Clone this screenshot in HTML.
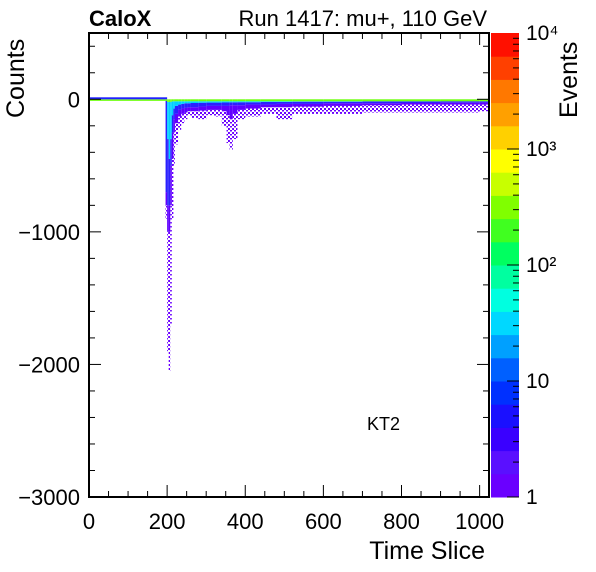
<!DOCTYPE html>
<html><head><meta charset="utf-8"><style>
html,body{margin:0;padding:0;background:#fff;}
svg{display:block;font-family:"Liberation Sans",sans-serif;}
</style></head><body>
<svg id="c" width="596" height="572" viewBox="0 0 596 572">
<defs>
<pattern id="sparse" width="4" height="4" patternUnits="userSpaceOnUse">
<rect x="0" y="0" width="2" height="2" fill="#6a00ff"/><rect x="2" y="2" width="2" height="1.5" fill="#6a00ff"/>
</pattern>
</defs>
<rect x="0" y="0" width="596" height="572" fill="#fff"/>
<g id="marks"></g>
<g id="axes"></g>
<g id="pal"></g>
<text x="89" y="26" font-size="22" font-weight="bold">CaloX</text>
<text x="487" y="26" font-size="22" text-anchor="end">Run 1417: mu+, 110 GeV</text>
<text x="485" y="559" font-size="25" text-anchor="end">Time Slice</text>
<text transform="translate(24,118) rotate(-90)" font-size="25" text-anchor="start">Counts</text>
<text transform="translate(577,118) rotate(-90)" font-size="25">Events</text>
<text x="367" y="430" font-size="18">KT2</text>
</svg>
<script>
const xTicks=[0,200,400,600,800,1000];
const yTicks=[0,-1000,-2000,-3000];
const zTicks=[1,10,100,1000,10000];
const zLabels=["1","10","10²","10³","10⁴"];
const pulseT=[0,196,200,204,208,212,216,220,228,236,244,252,260,280,300,320,340,352,360,368,380,400,440,480,520,600,700,800,900,1000,1024];
const tailMin=[0,-900,-1900,-2050,-1700,-900,-500,-340,-230,-180,-150,-120,-140,-150,-120,-130,-200,-330,-380,-300,-150,-130,-110,-150,-110,-110,-100,-100,-100,-90,-90];
const midMin=[0,-800,-1000,-1000,-800,-450,-250,-180,-130,-110,-100,-90,-90,-85,-80,-80,-90,-120,-150,-110,-80,-70,-60,-60,-55,-50,-45,-40,-40,-40,-40];
const coreMin=[0,-700,-800,-800,-500,-250,-150,-110,-80,-70,-65,-60,-60,-55,-50,-50,-50,-50,-45,-45,-45,-40,-40,-35,-35,-30,-30,-28,-26,-25,-25];
const cyanMin=[0,-10,-300,-450,-300,-120,-70,-50,-40,-35,-30,-30,-28,-26,-25,-25,-24,-24,-23,-23,-22,-22,-20,-20,-18,-18,-16,-16,-15,-15,-15];
const greenMin=[-12,-12,-20,-20,-20,-15,-15,-15,-15,-15,-15,-15,-15,-15,-15,-15,-15,-15,-15,-15,-15,-15,-15,-15,-15,-15,-15,-15,-15,-15,-15];
const palColors=["#6a00ff","#5a10ff","#3a00ff","#1a10ff","#0030ff","#0060ff","#00a0ff","#00d8ff","#00ffe0","#00ffa0","#00ff60","#40ff20","#80ff00","#c8ff00","#ffff00","#ffd000","#ffa000","#ff7800","#ff4000","#ff1000"];
const NS="http://www.w3.org/2000/svg";
const L=89,R=489,T=33,B=497,xMin=0,xMax=1024,yMin=-3000,yMax=500;
const X=v=>L+(v-xMin)/(xMax-xMin)*(R-L);
const Y=v=>B-(v-yMin)/(yMax-yMin)*(B-T);
function mk(tag,attrs,parent){const e=document.createElementNS(NS,tag);for(const k in attrs)e.setAttribute(k,attrs[k]);parent.appendChild(e);return e;}
const marks=document.getElementById('marks');
for(let i=0;i<pulseT.length-1;i++){
  const x0=X(pulseT[i]),w=X(pulseT[i+1])-x0;
  const layers=[[midMin[i],tailMin[i],"url(#sparse)"],[coreMin[i],midMin[i],"#6000ff"],[cyanMin[i],coreMin[i],"#2a20ff"],[greenMin[i],cyanMin[i],"#00d0ff"],[0,greenMin[i],"#70ff10"]];
  for(const [a,b,f] of layers){
    if(b>=a)continue;
    const r=mk('rect',{x:x0,y:Y(a),width:w,height:Y(b)-Y(a),fill:f},marks);
    
    
  }
}
const bl=mk('rect',{x:X(0),y:Y(15),width:X(200)-X(0),height:2,fill:"#2020ff"},marks);


const axes=document.getElementById('axes');
mk('rect',{x:L,y:T,width:R-L,height:B-T,fill:"none",stroke:"#000","stroke-width":2},axes);
for(let v=0;v<=1020;v+=50){const big=v%200===0;mk('line',{x1:X(v),x2:X(v),y1:B,y2:B-(big?12:6),stroke:"#000"},axes);mk('line',{x1:X(v),x2:X(v),y1:T,y2:T+(big?12:6),stroke:"#000"},axes);}
for(let v=-3000;v<=500;v+=200){const big=v%1000===0;mk('line',{x1:L,x2:L+(big?12:6),y1:Y(v),y2:Y(v),stroke:"#000"},axes);mk('line',{x1:R,x2:R-(big?12:6),y1:Y(v),y2:Y(v),stroke:"#000"},axes);}
xTicks.forEach(v=>{const t=mk('text',{x:X(v),y:529,"font-size":22,"text-anchor":"middle"},axes);t.textContent=String(v);
  
  });
yTicks.forEach(v=>{const t=mk('text',{x:80,y:Y(v)+8,"font-size":22,"text-anchor":"end"},axes);t.textContent=v<0?"\u2212"+(-v):String(v);
  
  });
const pal=document.getElementById('pal');
const PL=491,PW=28,n=palColors.length,bh=(B-T)/n;
palColors.forEach((c,i)=>{const r=mk('rect',{x:PL,y:B-(i+1)*bh,width:PW,height:bh+0.5,fill:c},pal);
  
  });
const Z=v=>B-Math.log10(v)/4*(B-T);
for(let d=0;d<4;d++)for(let m=1;m<10;m++){const v=Math.pow(10,d)*m;const big=m===1;mk('line',{x1:PL+PW,x2:PL+PW-(big?12:6),y1:Z(v),y2:Z(v),stroke:"#000"},pal);}
zTicks.forEach((v,i)=>{const t=mk('text',{x:526,y:Z(v)+7,"font-size":21},pal);t.textContent=zLabels[i];
  
  });
</script>
</body></html>
